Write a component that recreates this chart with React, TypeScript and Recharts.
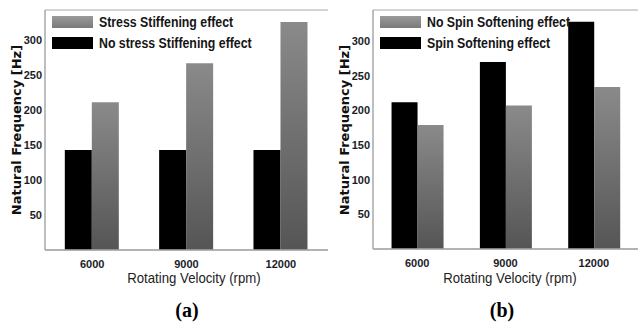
import React from 'react';
import { BarChart, Bar, XAxis, YAxis, CartesianGrid } from 'recharts';

const categories = ['6000', '9000', '12000'];
const noStressStiffening = [143, 143, 143];
const stressStiffening = [211, 267, 326];
const spinSoftening = [212, 270, 328];
const noSpinSoftening = [179, 207, 234];
const yTicks = [50, 100, 150, 200, 250, 300];
const gridTicks = [0, 50, 100, 150, 200, 250, 300];

const dataA = categories.map((c, i) => ({ rpm: c, black: noStressStiffening[i], gray: stressStiffening[i] }));
const dataB = categories.map((c, i) => ({ rpm: c, black: spinSoftening[i], gray: noSpinSoftening[i] }));

const NARROW = '"Liberation Sans Narrow", "Liberation Sans", Arial, sans-serif';

const tickStyle = { fontFamily: NARROW, fontWeight: 700, fontSize: 11, fill: '#1c1c28' };

function Legend({ items, left }: { items: { label: string; color: string }[]; left: number }) {
  return (
    <div style={{ position: 'absolute', left, top: 11, fontFamily: NARROW, fontWeight: 700, fontSize: 14, color: '#151515' }}>
      {items.map((it, i) => (
        <div key={i} style={{ display: 'flex', alignItems: 'center', height: 21, whiteSpace: 'nowrap' }}>
          <div
            style={{
              width: 41,
              height: 12,
              background: it.color === 'gray' ? 'linear-gradient(#9a9a9a, #7a7a7a)' : '#000',
              marginRight: 6,
              flex: 'none',
            }}
          />
          <span style={{ display: 'inline-block', transform: 'scaleX(0.88)', transformOrigin: 'left center' }}>{it.label}</span>
        </div>
      ))}
    </div>
  );
}

function Panel({
  data,
  left,
  width,
  xAxisHeight,
  domainMax,
  gradId,
  legendItems,
  yTitleX,
  xTitleX,
  caption,
  captionX,
}: any) {
  return (
    <div style={{ position: 'absolute', left, top: 0, width, height: 325 }}>
      <BarChart
        width={width}
        height={325}
        data={data}
        margin={{ top: 10, right: 2, bottom: 0, left: 0 }}
        barCategoryGap="21%"
        barGap={0}
      >
        <defs>
          <linearGradient id={gradId} x1="0" y1="0" x2="0" y2="1">
            <stop offset="0%" stopColor="#8a8a8a" />
            <stop offset="100%" stopColor="#555555" />
          </linearGradient>
        </defs>
        <CartesianGrid yAxisId="grid" vertical={false} stroke="#c6c6c6" strokeWidth={1.3} />
        <XAxis
          dataKey="rpm"
          height={xAxisHeight}
          tickLine={false}
          tickSize={0}
          tickMargin={10}
          axisLine={{ stroke: '#a8a8a8', strokeWidth: 1.5 }}
          tick={tickStyle}
        />
        <YAxis
          yAxisId="left"
          width={45}
          domain={[0, domainMax]}
          ticks={yTicks}
          allowDataOverflow
          tickLine={false}
          tickSize={0}
          tickMargin={3}
          axisLine={{ stroke: '#a8a8a8', strokeWidth: 1.5 }}
          tick={tickStyle}
        />
        <YAxis
          yAxisId="grid"
          orientation="right"
          width={0}
          domain={[0, 300]}
          ticks={gridTicks}
          tick={false}
          tickLine={false}
          axisLine={{ stroke: '#c6c6c6', strokeWidth: 1.5 }}
        />
        <Bar yAxisId="left" dataKey="black" fill="#000" isAnimationActive={false} />
        <Bar yAxisId="left" dataKey="gray" fill={`url(#${gradId})`} isAnimationActive={false} />
      </BarChart>
      <Legend items={legendItems} left={52} />
      <div
        style={{
          position: 'absolute',
          left: yTitleX - 100,
          top: 130 - 10,
          width: 200,
          height: 20,
          lineHeight: '20px',
          textAlign: 'center',
          transform: 'rotate(-90deg)',
          fontFamily: '"DejaVu Sans", sans-serif',
          fontWeight: 700,
          fontSize: 13,
          color: '#111',
          whiteSpace: 'nowrap',
        }}
      >
        Natural Frequency [Hz]
      </div>
      <div
        style={{
          position: 'absolute',
          left: xTitleX - 100,
          top: 269,
          width: 200,
          textAlign: 'center',
          fontFamily: NARROW,
          fontSize: 15,
          color: '#222',
          whiteSpace: 'nowrap',
          transform: 'scaleX(0.88)',
        }}
      >
        Rotating Velocity (rpm)
      </div>
      <div
        style={{
          position: 'absolute',
          left: captionX - 50,
          top: 299,
          width: 100,
          textAlign: 'center',
          fontFamily: '"Liberation Serif", "Times New Roman", serif',
          fontWeight: 700,
          fontSize: 20,
          color: '#000',
        }}
      >
        {caption}
      </div>
    </div>
  );
}

export default function App() {
  return (
    <div style={{ position: 'absolute', left: 0, top: 0, width: 643, height: 325, background: '#fff', overflow: 'hidden' }}>
      <Panel
        data={dataA}
        left={0}
        width={330}
        xAxisHeight={75}
        domainMax={343}
        gradId="gA"
        legendItems={[
          { label: 'Stress Stiffening effect', color: 'gray' },
          { label: 'No stress Stiffening effect', color: 'black' },
        ]}
        yTitleX={17}
        xTitleX={194}
        caption="(a)"
        captionX={187}
      />
      <Panel
        data={dataB}
        left={328}
        width={312}
        xAxisHeight={76}
        domainMax={345}
        gradId="gB"
        legendItems={[
          { label: 'No Spin Softening effect', color: 'gray' },
          { label: 'Spin Softening effect', color: 'black' },
        ]}
        yTitleX={17}
        xTitleX={182}
        caption="(b)"
        captionX={174}
      />
    </div>
  );
}
